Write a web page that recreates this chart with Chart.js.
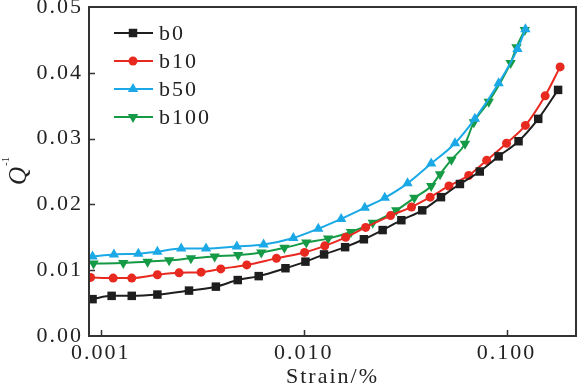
<!DOCTYPE html>
<html>

<head>
    <title>Q-1 vs Strain</title>
    <meta name="viewport" content="width=device-width, initial-scale=1.0">
    <script src="https://cdn.jsdelivr.net/npm/chart.js"></script>
    <style>
        html, body { margin: 0; padding: 0; background: #fff; }
        #wrap { width: 582px; height: 390px; }
    </style>
</head>

<body>
    <div id="wrap">
        <canvas id="qChart" width="582" height="390"></canvas>
    </div>

    <script>
        // series labels + tick labels
        var seriesNames = ["b0", "b10", "b50", "b100"];
        var xTicks = [0.001, 0.01, 0.1];

        // b0
        var strainB0 = [0.00091, 0.00113, 0.00142, 0.0019, 0.00272, 0.00369, 0.00473, 0.0060, 0.00813, 0.0102, 0.0126, 0.0160,
            0.0198, 0.0245, 0.0303, 0.0384, 0.0475, 0.0589, 0.0738, 0.0914, 0.1146, 0.1433, 0.1795];
        var qB0 = [0.0056, 0.0061, 0.0061, 0.0063, 0.0069, 0.0075, 0.0085, 0.0091, 0.0103, 0.0113, 0.0124, 0.0135,
            0.0147, 0.0161, 0.0176, 0.0191, 0.0211, 0.0231, 0.0250, 0.0273, 0.0296, 0.0330, 0.0374];

        // b10
        var strainB10 = [0.00089, 0.00115, 0.00142, 0.0019, 0.00243, 0.00312, 0.0039, 0.00524, 0.00734, 0.0101, 0.0127, 0.0161,
            0.0202, 0.0268, 0.0340, 0.0420, 0.0520, 0.0651, 0.0798, 0.100, 0.1239, 0.155, 0.1837];
        var qB10 = [0.0089, 0.0088, 0.0088, 0.0093, 0.0096, 0.0097, 0.0102, 0.0108, 0.0118, 0.0127, 0.0137, 0.0150,
            0.0165, 0.0183, 0.0196, 0.0211, 0.0228, 0.0244, 0.0267, 0.0293, 0.0320, 0.0365, 0.0409];

        // b50
        var strainB50 = [0.00091, 0.00116, 0.00153, 0.0019, 0.00249, 0.0033, 0.00468, 0.00634, 0.00889, 0.0118, 0.0153, 0.0200,
            0.0251, 0.0325, 0.0425, 0.0557, 0.0698, 0.0914, 0.1132, 0.1239];
        var qB50 = [0.0121, 0.0124, 0.0125, 0.0128, 0.0133, 0.0133, 0.0136, 0.0139, 0.0149, 0.0163, 0.0178, 0.0195,
            0.0210, 0.0232, 0.0262, 0.0293, 0.0330, 0.0384, 0.0436, 0.0466];

        // b100
        var strainB100 = [0.00092, 0.00129, 0.0017, 0.00217, 0.00278, 0.00364, 0.00475, 0.00618, 0.00803, 0.0103, 0.0132, 0.0171,
            0.0219, 0.0286, 0.0351, 0.0425, 0.0470, 0.0535, 0.0624, 0.0690, 0.0817, 0.1047, 0.112, 0.123];
        var qB100 = [0.0110, 0.0111, 0.0113, 0.0115, 0.0118, 0.0121, 0.0123, 0.0127, 0.0134, 0.0142, 0.0148, 0.0158,
            0.0172, 0.0191, 0.0210, 0.0228, 0.0246, 0.0268, 0.0292, 0.0325, 0.0356, 0.0415, 0.0439, 0.0465];

        var colors = ["#1e1e1e", "#e8291f", "#1aa9e6", "#159a45"];
        var markers = ["rect", "circle", "triangle", "triangle"];
        var rotations = [0, 0, 0, 180];
        var radii = [6, 4.5, 6, 6];

        function pairs(xs, ys) {
            return xs.map(function (x, i) { return { x: x, y: ys[i] }; });
        }

        var allX = [strainB0, strainB10, strainB50, strainB100];
        var allY = [qB0, qB10, qB50, qB100];

        var datasets = seriesNames.map(function (name, i) {
            return {
                label: name,
                data: pairs(allX[i], allY[i]),
                borderColor: colors[i],
                backgroundColor: colors[i],
                borderWidth: 2,
                pointStyle: markers[i],
                pointRotation: rotations[i],
                pointRadius: radii[i],
                pointBorderWidth: 0,
                cubicInterpolationMode: 'monotone',
                fill: false
            };
        });

        var serif = "Liberation Serif";

        // kill the label-overflow padding so the plot box sits where we want it
        function noPad(scale) {
            scale.paddingTop = 0;
            scale.paddingBottom = 0;
            scale.paddingLeft = 0;
            scale.paddingRight = 0;
        }

        // frame, inward ticks, legend and y title
        var decorPlugin = {
            id: 'decor',
            beforeLayout: function (chart) {
                chart.ctx.letterSpacing = '2px';
            },
            beforeDraw: function (chart) {
                chart.ctx.letterSpacing = '2px';
            },
            afterDraw: function (chart) {
                var ctx = chart.ctx;
                var a = chart.chartArea;
                var xs = chart.scales.x, ys = chart.scales.y;
                ctx.save();
                ctx.strokeStyle = '#333';
                ctx.lineWidth = 2;
                ctx.strokeRect(a.left, a.top, a.right - a.left, a.bottom - a.top);

                ctx.lineWidth = 1.5;
                ctx.beginPath();
                xTicks.forEach(function (v) {
                    var px = Math.round(xs.getPixelForValue(v)) + 0.5;
                    ctx.moveTo(px, a.bottom);
                    ctx.lineTo(px, a.bottom - 6);
                });
                [0.01, 0.02, 0.03, 0.04].forEach(function (v) {
                    var py = Math.round(ys.getPixelForValue(v)) + 0.5;
                    ctx.moveTo(a.left, py);
                    ctx.lineTo(a.left + 6, py);
                });
                ctx.stroke();

                // legend
                ctx.font = "22px " + serif;
                ctx.textBaseline = 'middle';
                ctx.textAlign = 'left';
                var rowY = [33, 61, 89, 117];
                chart.data.datasets.forEach(function (ds, i) {
                    var y = rowY[i];
                    ctx.strokeStyle = ds.borderColor;
                    ctx.lineWidth = 2;
                    ctx.beginPath();
                    ctx.moveTo(114, y);
                    ctx.lineTo(153, y);
                    ctx.stroke();
                    ctx.fillStyle = ds.backgroundColor;
                    Chart.helpers.drawPoint(ctx, {
                        pointStyle: ds.pointStyle,
                        rotation: ds.pointRotation,
                        radius: ds.pointRadius,
                        borderWidth: 0
                    }, 133, y);
                    ctx.fillStyle = '#222';
                    ctx.fillText(ds.label, 159, y + 1);
                });

                // y title Q^-1
                ctx.translate(26, 176);
                ctx.rotate(-Math.PI / 2);
                ctx.fillStyle = '#222';
                ctx.textBaseline = 'alphabetic';
                ctx.letterSpacing = '0px';
                ctx.font = "italic 25px " + serif;
                ctx.fillText('Q', -9, 0);
                var w = ctx.measureText('Q').width;
                ctx.font = "11px " + serif;
                ctx.fillText('-1', -9 + w + 1, -17);
                ctx.restore();
            }
        };

        new Chart("qChart", {
            type: "line",
            data: { datasets: datasets },
            options: {
                responsive: false,
                animation: false,
                layout: { padding: { left: 0, top: 7, right: 2, bottom: 0 } },
                plugins: {
                    legend: { display: false },
                    tooltip: { enabled: false }
                },
                scales: {
                    x: {
                        type: 'logarithmic',
                        min: 0.000874,
                        max: 0.22,
                        afterBuildTicks: function (scale) {
                            scale.ticks = xTicks.map(function (v) { return { value: v, major: true }; });
                        },
                        afterFit: function (scale) { scale.height = 54; noPad(scale); },
                        grid: { display: false, drawTicks: false },
                        border: { display: false },
                        ticks: {
                            color: '#222',
                            padding: 4,
                            maxRotation: 0,
                            autoSkip: false,
                            font: { family: serif, size: 22 },
                            callback: function (v) { return Number(v).toFixed(3); }
                        },
                        title: {
                            display: true,
                            text: 'Strain/%',
                            color: '#222',
                            padding: { top: 0, bottom: 0 },
                            font: { family: serif, size: 22 }
                        }
                    },
                    y: {
                        min: 0,
                        max: 0.05,
                        afterFit: function (scale) { scale.width = 89; noPad(scale); },
                        grid: { display: false, drawTicks: false },
                        border: { display: false },
                        ticks: {
                            stepSize: 0.01,
                            color: '#222',
                            padding: 6,
                            font: { family: serif, size: 22 },
                            callback: function (v) { return Number(v).toFixed(2); }
                        }
                    }
                }
            },
            plugins: [decorPlugin]
        });
    </script>
</body>

</html>
